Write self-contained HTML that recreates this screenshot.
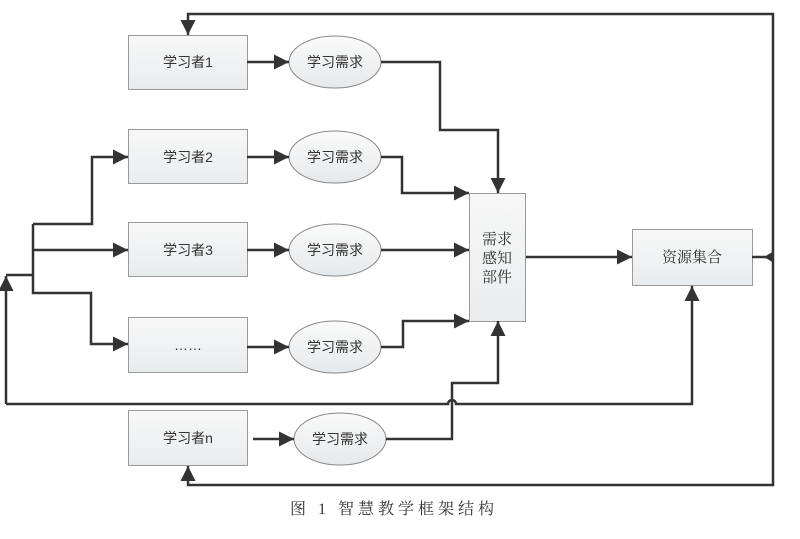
<!DOCTYPE html>
<html><head><meta charset="utf-8"><style>
html,body{margin:0;padding:0;background:#fff;}
svg{display:block;}
.t{font-family:"Liberation Sans","Noto Sans CJK SC",sans-serif;font-size:14px;fill:#333;}
.c{font-family:"Liberation Serif","Noto Serif CJK SC",serif;font-size:15px;fill:#333;}
.s{font-family:"Liberation Serif","Noto Serif CJK SC",serif;font-size:16px;fill:#333;letter-spacing:4px;}
</style></head><body>
<svg width="800" height="539" viewBox="0 0 800 539" xmlns="http://www.w3.org/2000/svg">
<defs>
<linearGradient id="g" x1="0" y1="0" x2="0" y2="1"><stop offset="0" stop-color="#f7f7f7"/><stop offset="1" stop-color="#e9ecee"/></linearGradient>
<linearGradient id="g2" x1="0" y1="0" x2="0" y2="1"><stop offset="0" stop-color="#fafafa"/><stop offset="1" stop-color="#e6e9eb"/></linearGradient>
<marker id="a" viewBox="0 0 10 10" refX="10" refY="5" markerWidth="6" markerHeight="6" orient="auto"><path d="M0,0 L10,5 L0,10 Z" fill="#333"/></marker>
</defs>
<g fill="url(#g)" stroke="#999" stroke-width="1">
<rect x="128.5" y="35.5" width="119" height="54"/>
<rect x="128.5" y="129.5" width="119" height="54"/>
<rect x="128.5" y="222.5" width="119" height="54"/>
<rect x="128.5" y="317.5" width="119" height="55"/>
<rect x="128.5" y="410.5" width="119" height="55"/>
<rect x="469.5" y="193.5" width="56" height="128"/>
<rect x="632.5" y="229.5" width="120" height="56"/>
</g>
<g fill="url(#g2)" stroke="#888" stroke-width="1">
<ellipse cx="335" cy="62" rx="46" ry="26"/>
<ellipse cx="335" cy="157" rx="46" ry="26"/>
<ellipse cx="335" cy="250" rx="46" ry="26"/>
<ellipse cx="335" cy="347" rx="46" ry="26"/>
<ellipse cx="340" cy="439" rx="46" ry="26"/>
</g>
<g fill="none" stroke="#333" stroke-width="2.5">
<path d="M773,257 L773,14 L188,14 L188,35" marker-end="url(#a)"/>
<path d="M773,257 L773,485 L188,485 L188,466" marker-end="url(#a)"/>
<path d="M752,257 L773,257"/>
<path d="M247,62 L289,62" marker-end="url(#a)"/>
<path d="M247,157 L289,157" marker-end="url(#a)"/>
<path d="M247,250 L289,250" marker-end="url(#a)"/>
<path d="M247,347 L289,347" marker-end="url(#a)"/>
<path d="M253,439 L294,439" marker-end="url(#a)"/>
<path d="M33,224 L92,224 L92,157 L128,157" marker-end="url(#a)"/>
<path d="M33,224 L33,293 L91,293 L91,344 L128,344" marker-end="url(#a)"/>
<path d="M33,250 L128,250" marker-end="url(#a)"/>
<path d="M33,275 L6,275"/>
<path d="M6,404 L6,276" marker-end="url(#a)"/>
<path d="M6,404 L448,404 A4,4 0 0 1 456,404 L692,404 L692,286" marker-end="url(#a)"/>
<path d="M381,62 L440,62 L440,130 L498,130 L498,193" marker-end="url(#a)"/>
<path d="M381,157 L402,157 L402,193 L469,193" marker-end="url(#a)"/>
<path d="M381,250 L469,250" marker-end="url(#a)"/>
<path d="M381,347 L403,347 L403,321 L469,321" marker-end="url(#a)"/>
<path d="M386,439 L452,439 L452,383 L498,383 L498,321" marker-end="url(#a)"/>
<path d="M526,257 L632,257" marker-end="url(#a)"/>
</g>
<path d="M764,257 L774,251 L774,263 Z" fill="#333"/>
<g class="t" text-anchor="middle">
<text x="188" y="67">学习者1</text>
<text x="188" y="162">学习者2</text>
<text x="188" y="255">学习者3</text>
<text x="188" y="350">……</text>
<text x="188" y="443">学习者n</text>
<text x="335" y="67">学习需求</text>
<text x="335" y="162">学习需求</text>
<text x="335" y="255">学习需求</text>
<text x="335" y="352">学习需求</text>
<text x="340" y="444">学习需求</text>
</g>
<g class="c" text-anchor="middle">
<text x="692" y="262">资源集合</text>
<text x="497" y="244">需求</text>
<text x="497" y="263">感知</text>
<text x="497" y="282">部件</text>
</g>
<text class="s" x="290" y="514">图 1 智慧教学框架结构</text>
</svg>
</body></html>
